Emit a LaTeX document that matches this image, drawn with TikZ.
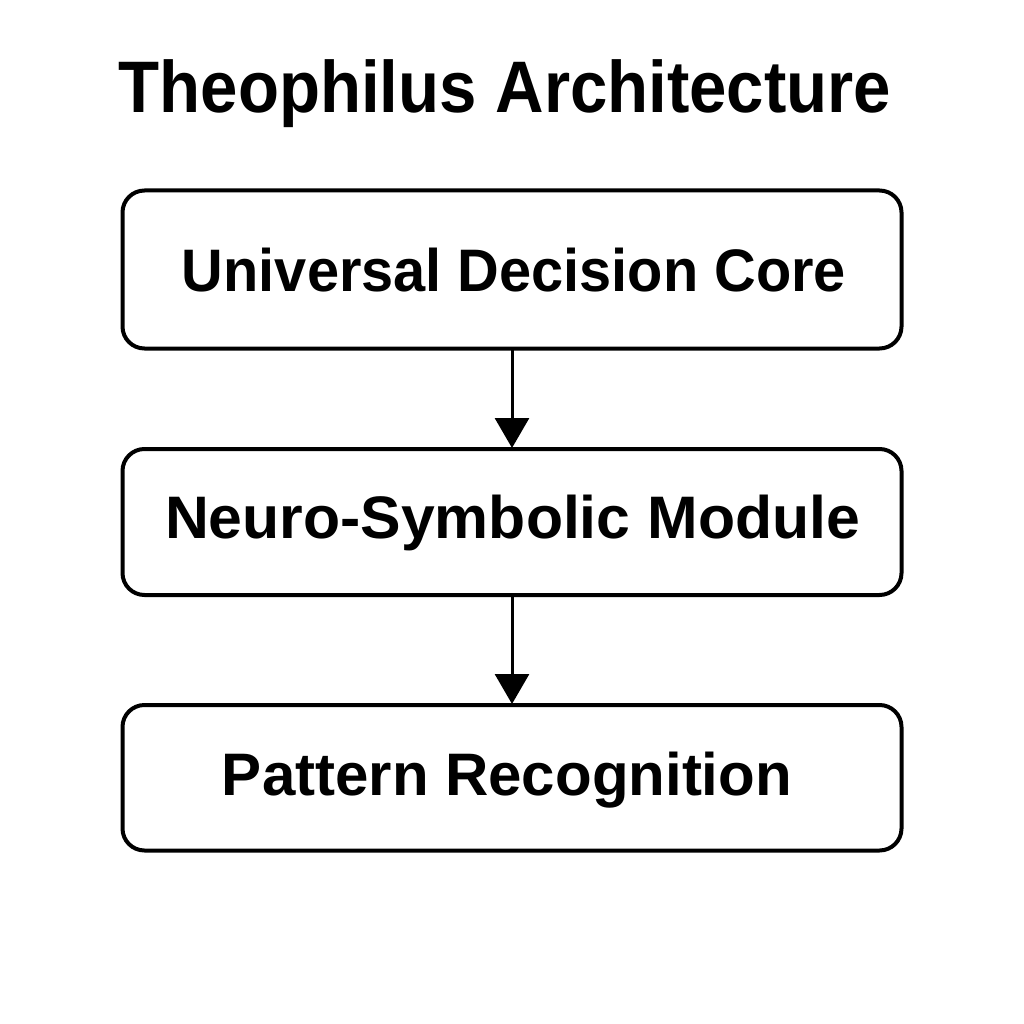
\documentclass[tikz,border=0pt]{standalone}
\usepackage{fontspec}
\setmainfont{Liberation Sans}
\usetikzlibrary{arrows.meta}
\begin{document}
\begin{tikzpicture}[x=1pt,y=-1pt,
  box/.style={draw,line width=4pt,rounded corners=22pt},
  lbl/.style={anchor=base,inner sep=0pt,font=\bfseries\fontsize{60}{72}\selectfont},
  conn/.style={line width=3pt,-{Triangle[width=34pt,length=30pt]}}]
\useasboundingbox[fill=white] (0,0) rectangle (1024,1024);
\node[anchor=base,inner sep=0pt,font=\bfseries\fontsize{73}{86}\selectfont] (title) at (505,113) {\scalebox{0.92}[1]{Theophilus Architecture}};
\draw[box] (122.5,190.5) rectangle (901.5,348.5);
\draw[box] (122.5,449) rectangle (901.5,595);
\draw[box] (122.5,705) rectangle (901.5,850.5);
\node[lbl] (t1) at (514,291) {\scalebox{0.962}[1]{Universal Decision Core}};
\node[lbl] (t2) at (512.5,538) {\scalebox{1.012}[1]{Neuro-Symbolic Module}};
\node[lbl] (t3) at (507,795) {Pattern Recognition};
\coordinate (a1s) at (512,350);
\coordinate (a1e) at (512,448);
\coordinate (a2s) at (512,597);
\coordinate (a2e) at (512,704);
\draw[conn] (a1s) -- (a1e);
\draw[conn] (a2s) -- (a2e);
\end{tikzpicture}
\end{document}
